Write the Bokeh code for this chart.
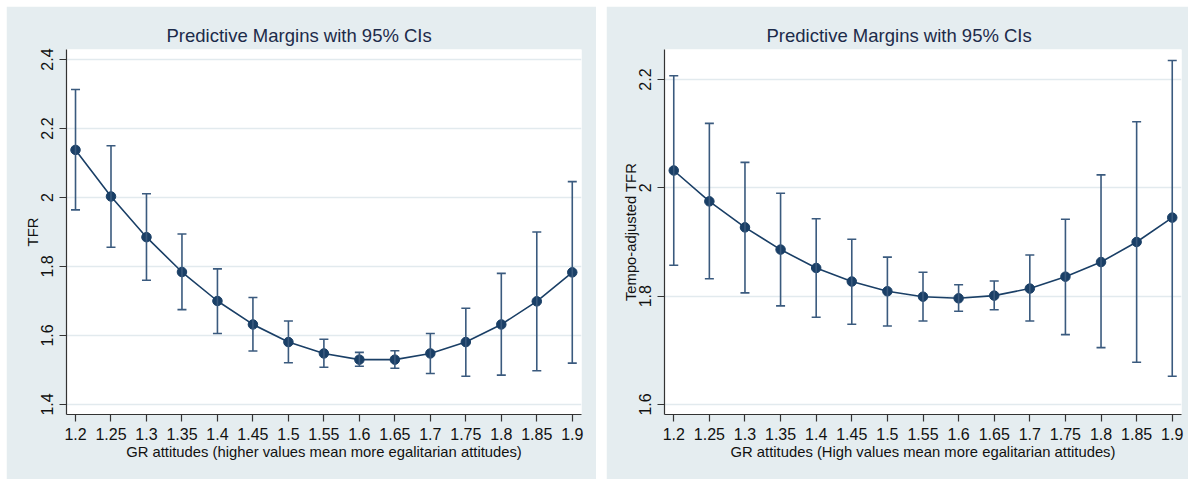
from bokeh.plotting import figure
from bokeh.models import ColumnDataSource, Whisker, TeeHead, FixedTicker, Range1d, Spacer
from bokeh.layouts import row, column
from bokeh.embed import file_html
from bokeh.resources import INLINE

# ---------------- data ----------------
gr_attitudes = [1.2, 1.25, 1.3, 1.35, 1.4, 1.45, 1.5, 1.55, 1.6, 1.65, 1.7, 1.75, 1.8, 1.85, 1.9]
x_tick_labels = ["1.2", "1.25", "1.3", "1.35", "1.4", "1.45", "1.5", "1.55",
                 "1.6", "1.65", "1.7", "1.75", "1.8", "1.85", "1.9"]

# Left panel: TFR
tfr_margin = [2.138, 2.003, 1.885, 1.784, 1.700, 1.632, 1.581, 1.548,
              1.530, 1.530, 1.548, 1.581, 1.632, 1.699, 1.783]
tfr_upper = [2.313, 2.150, 2.011, 1.894, 1.793, 1.710, 1.642, 1.589,
             1.551, 1.556, 1.606, 1.679, 1.780, 1.900, 2.046]
tfr_lower = [1.964, 1.856, 1.760, 1.675, 1.606, 1.555, 1.521, 1.508,
             1.511, 1.505, 1.490, 1.482, 1.485, 1.498, 1.520]
tfr_y_ticks = [1.4, 1.6, 1.8, 2.0, 2.2, 2.4]
tfr_y_labels = ["1.4", "1.6", "1.8", "2", "2.2", "2.4"]

# Right panel: Tempo-adjusted TFR
tempo_margin = [2.032, 1.975, 1.927, 1.886, 1.852, 1.827, 1.809, 1.799,
                1.796, 1.801, 1.814, 1.836, 1.863, 1.900, 1.945]
tempo_upper = [2.207, 2.119, 2.047, 1.990, 1.943, 1.905, 1.872, 1.844,
               1.821, 1.828, 1.876, 1.942, 2.024, 2.122, 2.235]
tempo_lower = [1.857, 1.832, 1.806, 1.782, 1.761, 1.748, 1.745, 1.754,
               1.772, 1.775, 1.754, 1.729, 1.705, 1.678, 1.652]
tempo_y_ticks = [1.6, 1.8, 2.0, 2.2]
tempo_y_labels = ["1.6", "1.8", "2", "2.2"]

title_text = "Predictive Margins with 95% CIs"

# ---------------- style ----------------
FONT = "Liberation Sans"
PANEL_BG = "#e5edf0"
NAVY = "#1a3f66"
CI_COLOR = "#3a5a7e"
GRID = "#e2eaee"
AXIS = "#333333"


def make_panel(width, height, xr, yr, ys, up, lo, yticks, ylabels, ylab, xlab,
               mb_left, mb_right, mb_top, mb_bottom, title_offset):
    p = figure(width=width, height=height, output_backend="svg", toolbar_location=None,
               x_range=Range1d(*xr), y_range=Range1d(*yr),
               min_border_left=mb_left, min_border_right=mb_right,
               min_border_top=mb_top, min_border_bottom=mb_bottom)
    p.background_fill_color = "white"
    p.border_fill_color = PANEL_BG
    p.outline_line_color = None

    p.title.text = title_text
    p.title.align = "left"
    p.title.offset = title_offset
    p.title.standoff = 8
    p.title.text_font = FONT
    p.title.text_font_size = "18.5px"
    p.title.text_font_style = "normal"
    p.title.text_color = "#1c2b4a"

    src = ColumnDataSource(dict(x=gr_attitudes, y=ys, upper=up, lower=lo))
    w = Whisker(base="x", upper="upper", lower="lower", source=src, dimension="height",
                line_color=CI_COLOR, line_width=1.6,
                upper_head=TeeHead(size=9, line_color=CI_COLOR, line_width=1.6),
                lower_head=TeeHead(size=9, line_color=CI_COLOR, line_width=1.6),
                level="glyph")
    p.add_layout(w)
    p.line("x", "y", source=src, line_color=NAVY, line_width=1.6)
    p.scatter("x", "y", source=src, size=9.5, fill_color=NAVY, line_color=NAVY)

    # axes
    p.xaxis.ticker = FixedTicker(ticks=gr_attitudes)
    p.xaxis.major_label_overrides = {v: s for v, s in zip(gr_attitudes, x_tick_labels)}
    p.yaxis.ticker = FixedTicker(ticks=yticks)
    p.yaxis.major_label_overrides = {v: s for v, s in zip(yticks, ylabels)}
    p.yaxis.major_label_orientation = "vertical"
    for ax in (p.xaxis[0], p.yaxis[0]):
        ax.axis_line_color = AXIS
        ax.axis_line_width = 1.2
        ax.major_tick_line_color = AXIS
        ax.major_tick_line_width = 1.2
        ax.major_tick_out = 7
        ax.major_tick_in = 0
        ax.minor_tick_line_color = None
        ax.major_label_text_font = FONT
        ax.major_label_text_font_size = "16px"
        ax.major_label_text_color = "#111111"
        ax.axis_label_text_font = FONT
        ax.axis_label_text_font_size = "14.8px"
        ax.axis_label_text_font_style = "normal"
        ax.axis_label_text_color = "#111111"
    p.xaxis.major_label_standoff = 6
    p.xaxis.axis_label = xlab
    p.xaxis.axis_label_standoff = 1
    p.yaxis.major_label_standoff = 6
    p.yaxis.axis_label = ylab
    p.yaxis.axis_label_standoff = -2

    p.xgrid.grid_line_color = None
    p.ygrid.ticker = FixedTicker(ticks=yticks)
    p.ygrid.grid_line_color = GRID
    p.ygrid.grid_line_width = 1.5
    return p


left = make_panel(590, 473, (1.1873, 1.913), (1.371, 2.429),
                  tfr_margin, tfr_upper, tfr_lower, tfr_y_ticks, tfr_y_labels,
                  "TFR", "GR attitudes (higher values mean more egalitarian attitudes)",
                  60, 15, 43, 64, 100)

right = make_panel(582, 473, (1.187, 1.913), (1.5815, 2.2554),
                   tempo_margin, tempo_upper, tempo_lower, tempo_y_ticks, tempo_y_labels,
                   "Tempo-adjusted TFR", "GR attitudes (High values mean more egalitarian attitudes)",
                   58, 7, 43, 65, 102)

layout = column(Spacer(height=6), row(Spacer(width=6), left, Spacer(width=10), right))

open("out.html", "w").write(file_html(layout, INLINE))
